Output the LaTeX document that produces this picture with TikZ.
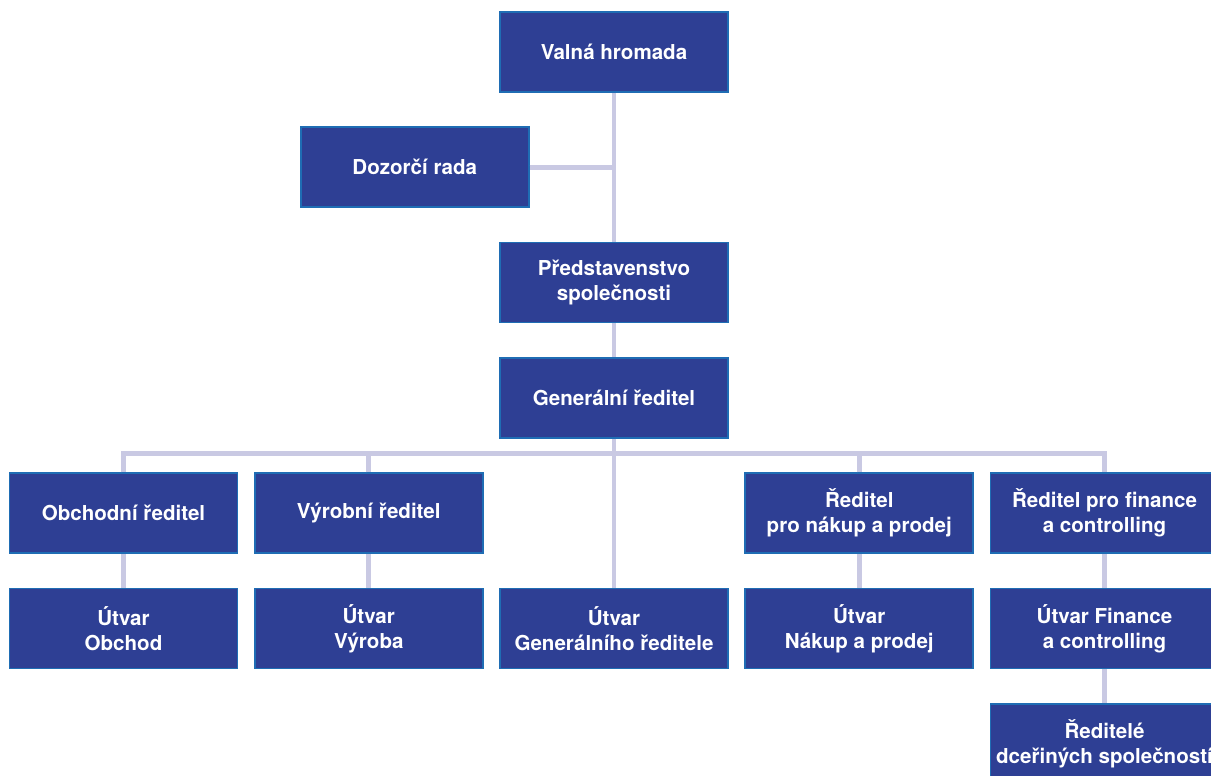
\documentclass[tikz,border=0pt]{standalone}
\usepackage{fontspec}
\setmainfont{TeX Gyre Heros}
\usetikzlibrary{calc}
\definecolor{boxfill}{HTML}{2E3F94}
\definecolor{boxline}{HTML}{1F6DB4}
\definecolor{linkcol}{HTML}{C9C9E3}
\def\colStep{245.25}
\def\rowStep{115.3}

\begin{document}
\begin{tikzpicture}[
    x=0.02cm, y=-0.02cm,
    orgbox/.style={
      draw=boxline, line width=1pt, fill=boxfill, text=white,
      minimum width=4.56cm, minimum height=1.6cm,
      inner sep=0pt, align=center,
      font=\bfseries\fontsize{11.7}{14.2}\selectfont
    },
    link/.style={
      draw=linkcol, line width=2.8pt
    }
  ]
    \useasboundingbox (0,0) rectangle (1211,776);
    \clip (0,0) rectangle (1211,776);

    % top of the tree
    \node[orgbox] (valna) at (614,52) {Valná hromada};
    \node[orgbox] (dozor) at (614-\colStep+46,52+1*\rowStep) {Dozorčí rada};
    \node[orgbox] (pred) at (614,52+2*\rowStep) {Představenstvo\\společnosti};
    \node[orgbox] (gen) at (614,52+3*\rowStep) {Generální ředitel};

    % directors
    \node[orgbox] (obch) at (614-2*\colStep,52+4*\rowStep) {Obchodní ředitel};
    \node[orgbox] (vyr) at (614-1*\colStep,52+4*\rowStep) {Výrobní ředitel};
    \node[orgbox] (nak) at (614+1*\colStep,52+4*\rowStep) {Ředitel\\pro nákup a prodej};
    \node[orgbox] (fin) at (614+2*\colStep,52+4*\rowStep) {Ředitel pro finance\\a controlling};

    % departments
    \node[orgbox] (utvObch) at (614-2*\colStep,52+5*\rowStep) {Útvar\\Obchod};
    \node[orgbox] (utvVyr) at (614-1*\colStep,52+5*\rowStep) {Útvar\\Výroba};
    \node[orgbox] (utvGen) at (614,52+5*\rowStep) {Útvar\\Generálního ředitele};
    \node[orgbox] (utvNak) at (614+1*\colStep,52+5*\rowStep) {Útvar\\Nákup a prodej};
    \node[orgbox] (utvFin) at (614+2*\colStep,52+5*\rowStep) {Útvar Finance\\a controlling};
    \node[orgbox] (dcer) at (614+2*\colStep,52+6*\rowStep) {Ředitelé\\dceřiných společností};

    % connectors
    \draw[link] (valna.south) -- (pred.north);
    \draw[link] (dozor.east) -- (dozor.east -| valna.south);
    \draw[link] (pred.south) -- (gen.north);
    \draw[link] (gen.south) -- (utvGen.north);
    \draw[link] (obch.north) -- ++(0,-19) -| (fin.north);
    \draw[link] (vyr.north) -- ++(0,-19);
    \draw[link] (nak.north) -- ++(0,-19);
    \draw[link] (obch.south) -- (utvObch.north);
    \draw[link] (vyr.south) -- (utvVyr.north);
    \draw[link] (nak.south) -- (utvNak.north);
    \draw[link] (fin.south) -- (utvFin.north);
    \draw[link] (utvFin.south) -- (dcer.north);
  \end{tikzpicture}
\end{document}
